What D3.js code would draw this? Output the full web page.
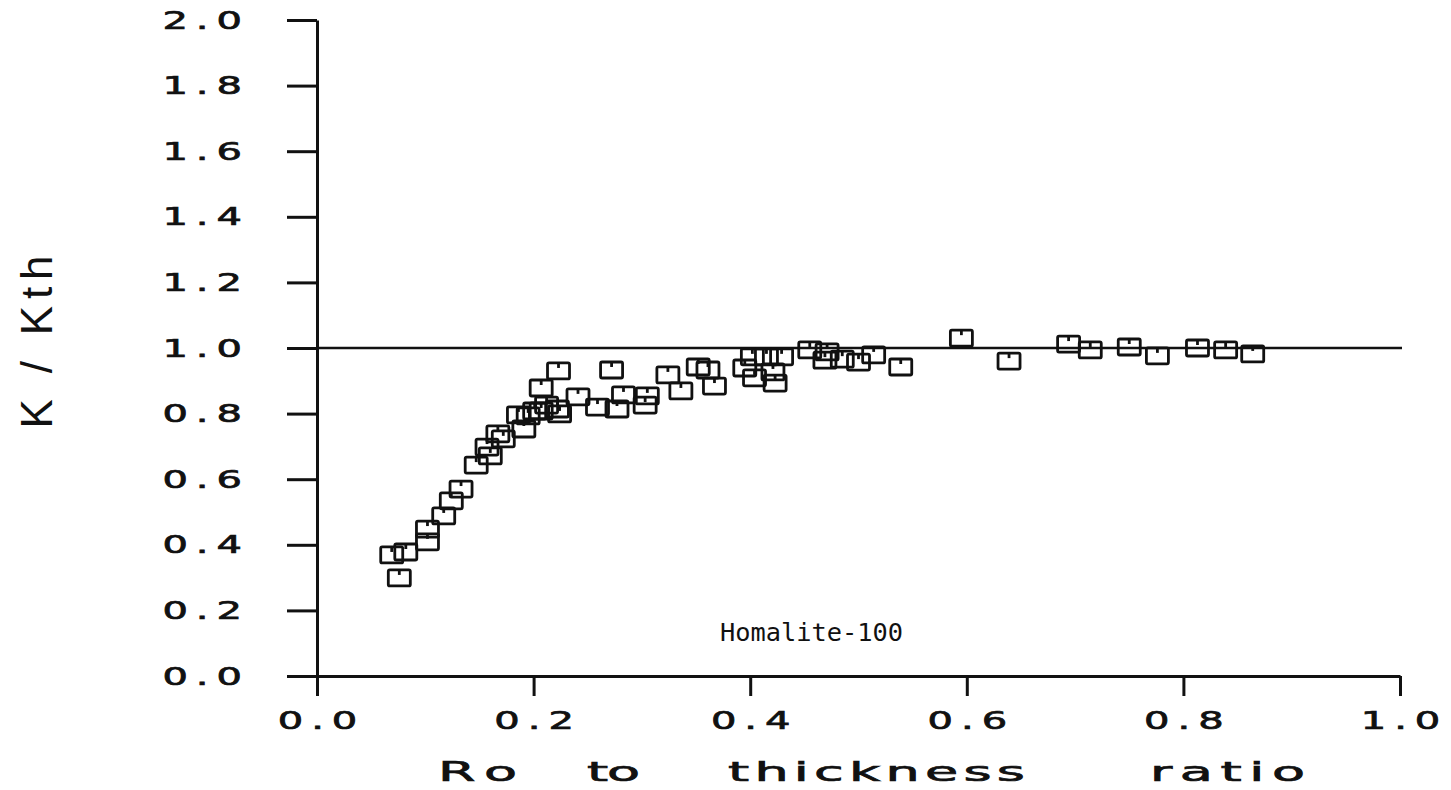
<!DOCTYPE html>
<html>
<head>
<meta charset="utf-8">
<script src="https://d3js.org/d3.v7.min.js"></script>
<style>
  body{margin:0;background:#fff;}
  svg{display:block;}
  .axis path,.axis line{stroke:#111;stroke-width:3;}
  .axis text{font-family:"DejaVu Sans";font-size:25px;fill:#111;stroke:#111;stroke-width:0.7px;}
  .mark rect,.mark line{fill:none;stroke:#111;stroke-width:2.8;}
</style>
</head>
<body>
<svg></svg>
<script>
// Ro / thickness ratio against K / Kth (Homalite-100)
var ratio = [0.069,0.076,0.082,0.102,0.102,0.117,0.124,0.133,0.147,0.157,0.160,0.167,0.172,
             0.186,0.191,0.195,0.201,0.207,0.207,0.212,0.223,0.222,0.224,0.241,0.259,0.272,
             0.277,0.283,0.303,0.305,0.324,0.336,0.352,0.361,0.367,0.395,0.402,0.404,0.415,
             0.421,0.423,0.429,0.455,0.471,0.469,0.485,0.500,0.514,0.539,0.595,0.639,0.694,
             0.714,0.750,0.776,0.813,0.839,0.864];
var kRatio = [0.369,0.299,0.378,0.409,0.448,0.488,0.534,0.570,0.643,0.698,0.671,0.738,0.723,
              0.796,0.753,0.793,0.808,0.878,0.808,0.826,0.930,0.814,0.799,0.851,0.820,0.933,
              0.814,0.857,0.826,0.854,0.918,0.869,0.942,0.933,0.884,0.939,0.973,0.909,0.973,
              0.927,0.893,0.973,0.994,0.988,0.963,0.966,0.957,0.979,0.942,1.030,0.960,1.012,
              0.994,1.003,0.976,1.000,0.994,0.982];
var xTicks = [0,0.2,0.4,0.6,0.8,1.0];
var yTicks = [0,0.2,0.4,0.6,0.8,1.0,1.2,1.4,1.6,1.8,2.0];
var refLine = 1.0;
var xTitle = ["Ro","to","thickness","ratio"];
var yTitle = "K / Kth";
var note = "Homalite-100";

var W = 1451, H = 790;
var svg = d3.select("svg").attr("width", W).attr("height", H);

var x = d3.scaleLinear().domain([0,1]).range([317,1400]);
var y = d3.scaleLinear().domain([0,2]).range([676,20]);
var sx = 1.6;   // plotter lettering is wide, stretch glyphs sideways
var ls = 5;

// x axis
var gx = svg.append("g").attr("class","axis")
    .attr("transform","translate(0," + y(0) + ")")
    .call(d3.axisBottom(x).tickValues(xTicks).tickFormat(d3.format(".1f"))
      .tickSize(20).tickSizeOuter(0).tickPadding(15));
gx.selectAll("text")
    .attr("transform","scale(" + sx + ",1)")
    .attr("x", ls/2)
    .style("letter-spacing", ls + "px");

// y axis
var gy = svg.append("g").attr("class","axis")
    .attr("transform","translate(" + x(0) + ",0)")
    .call(d3.axisLeft(y).tickValues(yTicks).tickFormat(d3.format(".1f"))
      .tickSize(30).tickSizeOuter(0));
gy.selectAll("text")
    .attr("transform","scale(" + sx + ",1)")
    .attr("x", -75/sx + ls)
    .style("letter-spacing", ls + "px");

// reference line K/Kth = 1
svg.append("line")
    .attr("x1", x(0)).attr("x2", x(1) + 2)
    .attr("y1", y(refLine)).attr("y2", y(refLine))
    .attr("stroke","#111").attr("stroke-width",2.4);

// square markers
var pts = ratio.map(function(d,i){ return [d, kRatio[i]]; });
var m = svg.append("g").selectAll("g").data(pts).enter().append("g")
    .attr("class","mark")
    .attr("transform", function(d){ return "translate(" + x(d[0]) + "," + y(d[1]) + ")"; });
m.append("rect").attr("x",-11).attr("y",-8).attr("width",22).attr("height",16).attr("rx",1.5);
m.append("line").attr("x1",0).attr("x2",0).attr("y1",-8).attr("y2",-3);

// x title, words placed like the original lettering
var tsx = 2.0;
var wordPos = [[438,79],[587,53],[728,297],[1150,155]];
svg.append("g").selectAll("text").data(xTitle).enter().append("text")
    .attr("transform","scale(" + tsx + ",1)")
    .attr("x", function(d,i){ return wordPos[i][0]/tsx; })
    .attr("y", 781)
    .attr("textLength", function(d,i){ return wordPos[i][1]/tsx; })
    .attr("lengthAdjust","spacing")
    .style("font-family","DejaVu Sans").style("font-size","27px")
    .style("fill","#111").style("stroke","#111").style("stroke-width","0.7px")
    .text(function(d){ return d; });

// y title
svg.append("text")
    .attr("transform","translate(52,342) rotate(-90)")
    .attr("text-anchor","middle")
    .attr("textLength",173).attr("lengthAdjust","spacing")
    .style("font-family","Liberation Sans").style("font-size","44px").style("fill","#111")
    .text(yTitle);

// material label
svg.append("text")
    .attr("x",720).attr("y",641)
    .attr("textLength",183).attr("lengthAdjust","spacingAndGlyphs")
    .style("font-family","DejaVu Sans Mono").style("font-size","24px").style("fill","#111")
    .text(note);
</script>
</body>
</html>
